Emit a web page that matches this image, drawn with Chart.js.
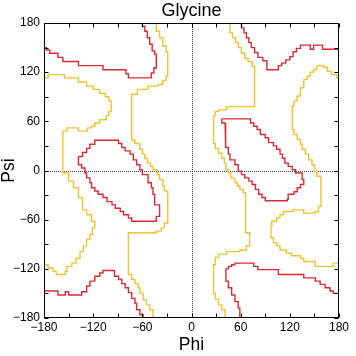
<!DOCTYPE html>
<html><head><meta charset="utf-8">
<style>html,body{margin:0;padding:0;background:#fff;}canvas{display:block;}</style>
<script src="https://cdn.jsdelivr.net/npm/chart.js@4"></script>
</head><body>
<canvas id="c" width="356" height="356" style="width:356px;height:356px"></canvas>
<script>
const majorTicks = [-180,-120,-60,0,60,120,180];
const minorTicks = [-150,-90,-30,30,90,150];

// outer (yellow) contours, [phi, psi]
const yellowLeftEdge = [[-180,113],[-175,113],[-175,117],[-155,117],[-155,113],[-138,113],[-138,108],[-128,108],[-128,103],[-120,103],[-120,99],[-112,99],[-112,94],[-105,94],[-105,90],[-101,90],[-101,85],[-98,85],[-98,72],[-101,72],[-101,67],[-104,67],[-104,62],[-112,62],[-112,58],[-118,58],[-118,54],[-122,54],[-122,52],[-127,52],[-127,48],[-138,48],[-138,52],[-152,52],[-152,48],[-157,48],[-157,-3],[-150,-3],[-150,-13],[-144,-13],[-144,-21],[-138,-21],[-138,-33],[-133,-33],[-133,-48],[-128,-48],[-128,-54],[-122,-54],[-122,-62],[-118,-62],[-118,-70],[-121,-70],[-121,-78],[-124,-78],[-124,-84],[-128,-84],[-128,-92],[-132,-92],[-132,-99],[-136,-99],[-136,-107],[-141,-107],[-141,-113],[-146,-113],[-146,-117],[-152,-117],[-152,-123],[-154,-123],[-154,-127],[-165,-127],[-165,-123],[-169,-123],[-169,-119],[-175,-119],[-175,-115],[-180,-115]];
const yellowLeftBand = [[-43,180],[-43,170],[-39,170],[-39,162],[-35,162],[-35,152],[-31,152],[-31,145],[-29,145],[-29,115],[-31,115],[-31,110],[-35,110],[-35,105],[-41,105],[-41,103],[-53,103],[-53,99],[-66,99],[-66,93],[-73,93],[-73,37],[-69,37],[-69,33],[-63,33],[-63,26],[-60,26],[-60,20],[-57,20],[-57,15],[-54,15],[-54,9],[-50,9],[-50,5],[-47,5],[-47,1],[-42,1],[-42,-5],[-39,-5],[-39,-11],[-35,-11],[-35,-19],[-33,-19],[-33,-25],[-29,-25],[-29,-64],[-33,-64],[-33,-70],[-37,-70],[-37,-74],[-43,-74],[-43,-76],[-77,-76],[-77,-127],[-73,-127],[-73,-133],[-69,-133],[-69,-138],[-65,-138],[-65,-143],[-63,-143],[-63,-150],[-59,-150],[-59,-158],[-55,-158],[-55,-164],[-51,-164],[-51,-170],[-47,-170],[-47,-180]];
const yellowRightBand = [[47,180],[47,168],[50,168],[50,162],[54,162],[54,156],[57,156],[57,150],[61,150],[61,143],[65,143],[65,137],[69,137],[69,133],[74,133],[74,127],[77,127],[77,78],[43,78],[43,74],[33,74],[33,72],[29,72],[29,67],[27,67],[27,33],[29,33],[29,27],[33,27],[33,21],[37,21],[37,15],[40,15],[40,9],[42,9],[42,1],[45,1],[45,-3],[48,-3],[48,-9],[53,-9],[53,-15],[56,-15],[56,-19],[59,-19],[59,-23],[63,-23],[63,-27],[66,-27],[66,-76],[71,-76],[71,-92],[67,-92],[67,-97],[59,-97],[59,-99],[43,-99],[43,-102],[33,-102],[33,-106],[29,-106],[29,-115],[27,-115],[27,-150],[29,-150],[29,-157],[33,-157],[33,-164],[37,-164],[37,-170],[41,-170],[41,-180]];
const yellowRightEdge = [[180,113],[177,113],[177,117],[171,117],[171,121],[166,121],[166,126],[161,126],[161,128],[153,128],[153,123],[149,123],[149,120],[145,120],[145,115],[141,115],[141,111],[137,111],[137,101],[133,101],[133,91],[129,91],[129,85],[125,85],[125,79],[123,79],[123,50],[125,50],[125,44],[129,44],[129,38],[133,38],[133,32],[135,32],[135,26],[139,26],[139,20],[143,20],[143,13],[147,13],[147,7],[150,7],[150,-1],[153,-1],[153,-7],[158,-7],[158,-44],[155,-44],[155,-50],[151,-50],[151,-52],[137,-52],[137,-48],[124,-48],[124,-50],[112,-50],[112,-54],[108,-54],[108,-58],[104,-58],[104,-62],[98,-62],[98,-68],[97,-68],[97,-82],[100,-82],[100,-88],[104,-88],[104,-92],[108,-92],[108,-97],[116,-97],[116,-101],[122,-101],[122,-104],[133,-104],[133,-107],[137,-107],[137,-111],[151,-111],[151,-117],[173,-117],[173,-113],[180,-113]];

// inner (red) contours, [phi, psi]
const redTopLeft = [[-180,150],[-177,150],[-177,147],[-173,147],[-173,143],[-163,143],[-163,138],[-157,138],[-157,133],[-138,133],[-138,128],[-108,128],[-108,123],[-80,123],[-80,118],[-77,118],[-77,113],[-49,113],[-49,119],[-46,119],[-46,125],[-43,125],[-43,142],[-45,142],[-45,146],[-48,146],[-48,154],[-51,154],[-51,162],[-54,162],[-54,170],[-57,170],[-57,176],[-60,176],[-60,180]];
const redAlphaR = [[-138,17],[-133,17],[-133,22],[-128,22],[-128,27],[-124,27],[-124,32],[-118,32],[-118,37],[-89,37],[-89,33],[-85,33],[-85,28],[-81,28],[-81,24],[-75,24],[-75,20],[-71,20],[-71,13],[-67,13],[-67,7],[-63,7],[-63,1],[-60,1],[-60,-5],[-53,-5],[-53,-15],[-49,-15],[-49,-21],[-47,-21],[-47,-29],[-45,-29],[-45,-42],[-39,-42],[-39,-56],[-43,-56],[-43,-62],[-73,-62],[-73,-58],[-77,-58],[-77,-54],[-83,-54],[-83,-50],[-87,-50],[-87,-46],[-93,-46],[-93,-42],[-97,-42],[-97,-38],[-103,-38],[-103,-33],[-108,-33],[-108,-29],[-114,-29],[-114,-25],[-118,-25],[-118,-21],[-122,-21],[-122,-15],[-124,-15],[-124,-9],[-128,-9],[-128,-3],[-130,-3],[-130,3],[-134,3],[-134,7],[-138,7],[-138,17]];
const redBottomLeft = [[-180,-147],[-163,-147],[-163,-152],[-154,-152],[-154,-148],[-150,-148],[-150,-152],[-134,-152],[-134,-148],[-128,-148],[-128,-141],[-124,-141],[-124,-135],[-118,-135],[-118,-129],[-112,-129],[-112,-125],[-108,-125],[-108,-122],[-94,-122],[-94,-129],[-89,-129],[-89,-133],[-85,-133],[-85,-138],[-81,-138],[-81,-143],[-77,-143],[-77,-149],[-73,-149],[-73,-156],[-69,-156],[-69,-162],[-67,-162],[-67,-170],[-63,-170],[-63,-176],[-59,-176],[-59,-180]];
const redTopRight = [[61,180],[61,174],[64,174],[64,168],[67,168],[67,162],[70,162],[70,156],[73,156],[73,150],[77,150],[77,144],[81,144],[81,138],[87,138],[87,134],[92,134],[92,123],[106,123],[106,128],[110,128],[110,131],[115,131],[115,135],[120,135],[120,139],[124,139],[124,145],[128,145],[128,149],[133,149],[133,153],[145,153],[145,148],[149,148],[149,153],[160,153],[160,148],[180,148]];
const redAlphaL = [[37,63],[37,58],[41,58],[41,40],[42,40],[42,28],[45,28],[45,20],[47,20],[47,13],[53,13],[53,7],[57,7],[57,-1],[61,-1],[61,-5],[65,-5],[65,-9],[70,-9],[70,-13],[74,-13],[74,-17],[78,-17],[78,-23],[82,-23],[82,-29],[86,-29],[86,-33],[90,-33],[90,-37],[117,-37],[117,-35],[118,-35],[118,-29],[125,-29],[125,-26],[129,-26],[129,-21],[133,-21],[133,-17],[137,-17],[137,-11],[135,-11],[135,-3],[127,-3],[127,1],[123,1],[123,5],[118,5],[118,9],[114,9],[114,15],[111,15],[111,20],[108,20],[108,26],[104,26],[104,30],[100,30],[100,34],[94,34],[94,40],[90,40],[90,44],[84,44],[84,50],[80,50],[80,54],[76,54],[76,58],[72,58],[72,63],[37,63]];
const redBottomRight = [[59,-180],[59,-168],[57,-168],[57,-160],[53,-160],[53,-152],[49,-152],[49,-143],[45,-143],[45,-135],[42,-135],[42,-120],[45,-120],[45,-117],[49,-117],[49,-115],[53,-115],[53,-113],[76,-113],[76,-117],[81,-117],[81,-121],[106,-121],[106,-127],[137,-127],[137,-131],[151,-131],[151,-135],[157,-135],[157,-139],[163,-139],[163,-143],[169,-143],[169,-147],[173,-147],[173,-150],[180,-150]];

const YELLOW = '#f2c230';
const RED = '#dc2a32';
const FONT = '"Liberation Sans", Arial, Helvetica, sans-serif';

const contours = [
  [yellowLeftEdge, YELLOW],[yellowLeftBand, YELLOW],[yellowRightBand, YELLOW],[yellowRightEdge, YELLOW],
  [redTopLeft, RED],[redAlphaR, RED],[redBottomLeft, RED],[redTopRight, RED],[redAlphaL, RED],[redBottomRight, RED]
];

function fmt(v){ return v < 0 ? '\u2212' + Math.abs(v) : String(v); }

const framePlugin = {
  id: 'frame',
  beforeDatasetsDraw(chart){
    const {ctx, chartArea:a, scales:{x, y}} = chart;
    ctx.save();
    ctx.strokeStyle = '#444';
    ctx.lineWidth = 1;
    ctx.setLineDash([1,1]);
    const x0 = Math.round(x.getPixelForValue(0)) + 0.5;
    const y0 = Math.round(y.getPixelForValue(0)) + 0.5;
    ctx.beginPath();
    ctx.moveTo(x0, a.top); ctx.lineTo(x0, a.bottom);
    ctx.moveTo(a.left, y0); ctx.lineTo(a.right, y0);
    ctx.stroke();
    ctx.restore();
  },
  afterDatasetsDraw(chart){
    const {ctx, chartArea:a, scales:{x, y}} = chart;
    const L = Math.round(a.left) + 0.5, R = Math.round(a.right) - 0.5;
    const T = Math.round(a.top) + 0.5, B = Math.round(a.bottom) - 0.5;
    ctx.save();
    ctx.strokeStyle = '#000';
    ctx.lineWidth = 1;
    ctx.strokeRect(L, T, R - L, B - T);
    ctx.beginPath();
    const len = 4;
    majorTicks.concat(minorTicks).forEach(v => {
      const px = Math.round(x.getPixelForValue(v)) + 0.5;
      ctx.moveTo(px, B); ctx.lineTo(px, B - len);
      ctx.moveTo(px, T); ctx.lineTo(px, T + len);
      const py = Math.round(y.getPixelForValue(v)) + 0.5;
      ctx.moveTo(L, py); ctx.lineTo(L + len, py);
      ctx.moveTo(R, py); ctx.lineTo(R - len, py);
    });
    ctx.stroke();
    ctx.restore();
  }
};

new Chart(document.getElementById('c'), {
  type: 'scatter',
  data: {
    datasets: contours.map(([pts, color]) => ({
      data: pts.map(p => ({x: p[0], y: p[1]})),
      showLine: true, borderColor: color, borderWidth: 1.4,
      pointRadius: 0, pointHoverRadius: 0, fill: false, tension: 0
    }))
  },
  options: {
    responsive: false, animation: false, devicePixelRatio: 1,
    events: [],
    layout: {padding: {left: 0, right: 17, top: 0, bottom: 0}},
    plugins: {
      legend: {display: false}, tooltip: {enabled: false},
      title: {display: true, text: 'Glycine', fullSize: false, color: '#000',
        font: {family: FONT, size: 18, weight: 'normal', lineHeight: 1},
        padding: {top: 2, bottom: 3}}
    },
    scales: {
      x: {
        type: 'linear', min: -180, max: 180,
        afterFit(s){ s.height = 38; },
        grid: {display: false, drawTicks: false}, border: {display: false},
        afterBuildTicks(s){ s.ticks = majorTicks.map(v => ({value: v})); },
        ticks: {padding: 2, color: '#000', font: {family: FONT, size: 12}, maxRotation: 0, autoSkip: false, callback: v => fmt(v)},
        title: {display: true, text: 'Phi', color: '#000', font: {family: FONT, size: 17.5, lineHeight: 1}, padding: {top: 0, bottom: 2}}
      },
      y: {
        type: 'linear', min: -180, max: 180,
        afterFit(s){ s.width = 44; },
        grid: {display: false, drawTicks: false}, border: {display: false},
        afterBuildTicks(s){ s.ticks = majorTicks.map(v => ({value: v})); },
        ticks: {padding: 4, color: '#000', font: {family: FONT, size: 12}, autoSkip: false, callback: v => fmt(v)},
        title: {display: true, text: 'Psi', color: '#000', font: {family: FONT, size: 17.5, lineHeight: 1}, padding: {top: 0, bottom: 0}}
      }
    }
  },
  plugins: [framePlugin]
});
</script>
</body></html>
